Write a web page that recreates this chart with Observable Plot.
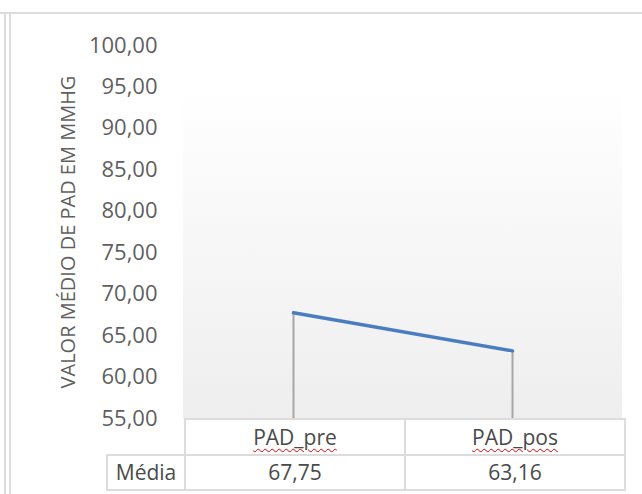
<!DOCTYPE html>
<html><head><meta charset="utf-8">
<script src="https://cdn.jsdelivr.net/npm/d3@7"></script>
<script src="https://cdn.jsdelivr.net/npm/@observablehq/plot@0.6"></script>
<style>
body{margin:0;background:#fff;}
#wrap{position:relative;width:642px;height:494px;overflow:hidden;font-family:"Open Sans",sans-serif;}
.ln{position:absolute;background:#dcdcdc;}
#bg{position:absolute;left:183px;top:84px;width:439px;height:335px;background:linear-gradient(#ffffff,#eeeeee);}
#chart{position:absolute;left:0;top:0;}
#tbl{position:absolute;left:106px;top:418px;border-collapse:collapse;font-size:21px;color:#4a4a4a;table-layout:fixed;}
#tbl td{border:2px solid #dcdcdc;text-align:center;padding:0;line-height:1;}
#tbl td.empty{border:none;}
#tbl .hdr{text-decoration:underline wavy #e00000;text-decoration-thickness:1px;text-underline-offset:3px;}
</style></head>
<body>
<div id="wrap">
  <div class="ln" style="left:0;top:12px;width:642px;height:2px;"></div>
  <div class="ln" style="left:4px;top:13px;width:2px;height:481px;"></div>
  <div class="ln" style="left:9px;top:13px;width:2px;height:481px;"></div>
  <div id="bg"></div>
  <div id="chart"></div>
  <table id="tbl"></table>
</div>
<script>
const categories = ["PAD_pre", "PAD_pos"];
const media = [67.75, 63.16];
const rowLabel = "Média";
const yTicks = [55, 60, 65, 70, 75, 80, 85, 90, 95, 100];
const yDomain = [55, 100];
const yTitle = "VALOR MÉDIO DE PAD EM MMHG";

const loc = d3.formatLocale({decimal: ",", thousands: ".", grouping: [3], currency: ["", ""]});
const fmt = loc.format(".2f");

const data = categories.map((c, i) => ({cat: c, v: media[i]}));

const chart = Plot.plot({
  width: 642, height: 494,
  marginTop: 45, marginBottom: 76, marginLeft: 183, marginRight: 20,
  style: {background: "transparent", fontFamily: "'Open Sans', sans-serif", color: "#595959"},
  x: {type: "point", domain: categories, padding: 0.5, axis: null},
  y: {domain: yDomain, axis: null},
  marks: [
    Plot.axisY({ticks: yTicks, tickFormat: fmt, tickSize: 0, tickPadding: 26, fontSize: 22, label: null, fill: "#5f5f5f"}),
    Plot.text([yTitle], {frameAnchor: "left", textAnchor: "middle", rotate: -90, dx: -115, fontSize: 20, fill: "#5f5f5f"}),
    Plot.ruleX(data, {x: "cat", y1: yDomain[0], y2: "v", stroke: "#a6a6a6", strokeWidth: 2}),
    Plot.line(data, {x: "cat", y: "v", stroke: "#4a7dc0", strokeWidth: 3.5})
  ]
});
document.getElementById("chart").appendChild(chart);

const tbl = document.getElementById("tbl");
const colW = [78, 220, 220];
const cg = document.createElement("colgroup");
colW.forEach(w => { const c = document.createElement("col"); c.style.width = w + "px"; cg.appendChild(c); });
tbl.appendChild(cg);
const r1 = tbl.insertRow();
r1.style.height = "36px";
const e = r1.insertCell(); e.className = "empty";
categories.forEach(c => { const td = r1.insertCell(); const s = document.createElement("span"); s.className = "hdr"; s.textContent = c; td.appendChild(s); });
const r2 = tbl.insertRow();
r2.style.height = "35px";
const l = r2.insertCell(); l.textContent = rowLabel;
media.forEach(v => { const td = r2.insertCell(); td.textContent = fmt(v); });
</script>
</body></html>
